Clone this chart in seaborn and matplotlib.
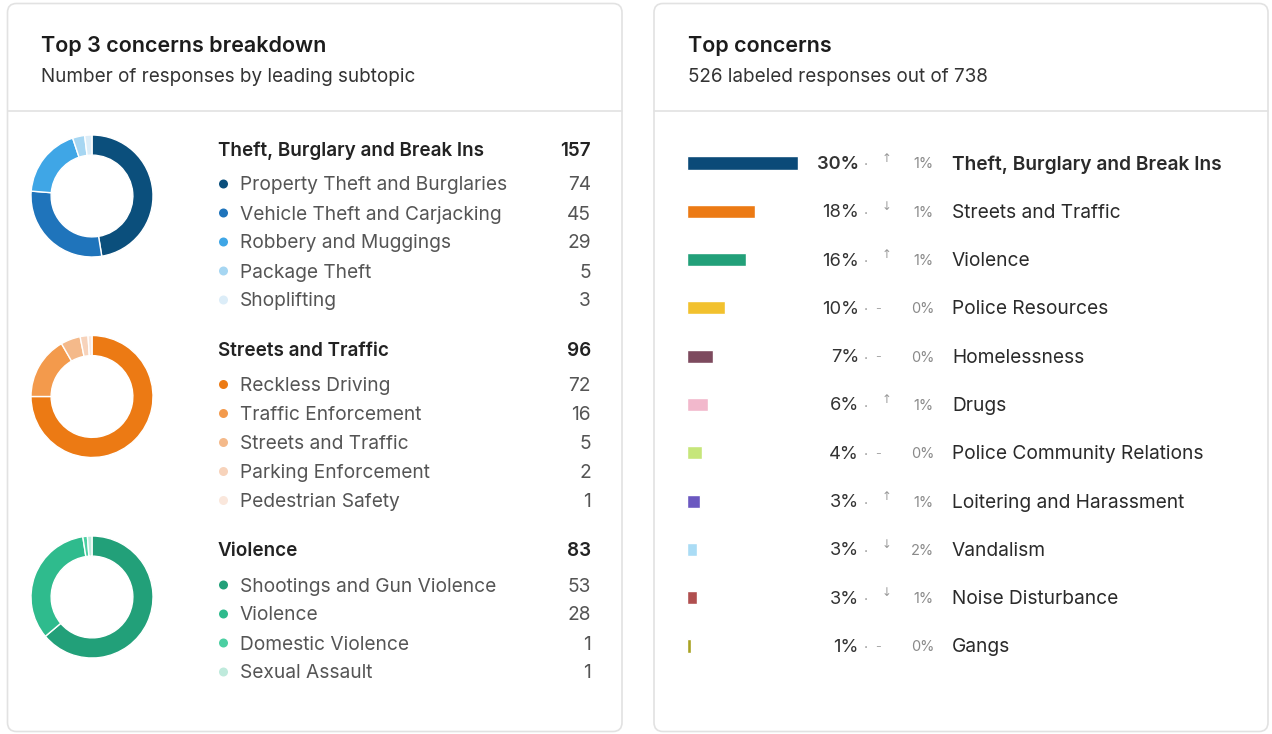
import matplotlib
matplotlib.use("Agg")
import matplotlib.pyplot as plt
import matplotlib.transforms as mtransforms
from matplotlib.patches import FancyBboxPatch
import seaborn as sns

sns.set_theme(style="white")
plt.rcParams['font.family'] = ['Inter', 'DejaVu Sans']

# ---- data: left card (top 3 concerns breakdown) ----
group_titles = ["Theft, Burglary and Break Ins", "Streets and Traffic", "Violence"]
group_totals = [157, 96, 83]

theft_subtopics = ["Property Theft and Burglaries", "Vehicle Theft and Carjacking",
                   "Robbery and Muggings", "Package Theft", "Shoplifting"]
theft_counts = [74, 45, 29, 5, 3]
theft_colors = ['#0b4f7c', '#1f74bb', '#3fa6e6', '#a6d6f2', '#dcedf8']

streets_subtopics = ["Reckless Driving", "Traffic Enforcement", "Streets and Traffic",
                     "Parking Enforcement", "Pedestrian Safety"]
streets_counts = [72, 16, 5, 2, 1]
streets_colors = ['#ec7a14', '#f39a4c', '#f4b98a', '#f7d3bb', '#fae7dc']

violence_subtopics = ["Shootings and Gun Violence", "Violence", "Domestic Violence", "Sexual Assault"]
violence_counts = [53, 28, 1, 1]
violence_colors = ['#22a079', '#2fbb8d', '#4ccfa2', '#bfeadc']

# ---- data: right card (top concerns) ----
concern_names = ["Theft, Burglary and Break Ins", "Streets and Traffic", "Violence",
                 "Police Resources", "Homelessness", "Drugs", "Police Community Relations",
                 "Loitering and Harassment", "Vandalism", "Noise Disturbance", "Gangs"]
concern_shares = [29.8, 18.3, 15.8, 10.1, 7.0, 5.7, 4.1, 3.4, 2.7, 2.7, 1.0]
change_dirs = ["up", "down", "up", "flat", "flat", "up", "flat", "up", "down", "down", "flat"]
change_vals = [1, 1, 1, 0, 0, 1, 0, 1, 2, 1, 0]
bar_colors = ['#0b4a78', '#ec7a14', '#22a079', '#f2c12e', '#7d4a5e', '#f2b8cc',
              '#c6e67a', '#6b58c0', '#aadcf5', '#b04f4f', '#a9a222']

W, H = 1272, 734
fig = plt.figure(figsize=(W / 100, H / 100), dpi=100)
fig.patch.set_facecolor('white')


def px_axes(x, y, w, h):
    """Axes placed in pixel coordinates (origin top-left)."""
    return fig.add_axes([x / W, 1 - (y + h) / H, w / W, h / H])


# background axes in pixel space
bg = fig.add_axes([0, 0, 1, 1])
bg.set_xlim(0, W)
bg.set_ylim(H, 0)
bg.axis('off')

border = '#e2e2e2'
for x0, x1 in [(7.5, 622), (654, 1268)]:
    bg.add_patch(FancyBboxPatch((x0, 3.5), x1 - x0, 728, boxstyle="round,pad=0,rounding_size=9",
                                facecolor='white', edgecolor=border, linewidth=1.2))
    bg.plot([x0, x1], [111, 111], color=border, linewidth=1.2)

title_kw = dict(fontsize=15.5, fontweight='semibold', color='#1c1c1c', va='center')
sub_kw = dict(fontsize=13.6, color='#333333', va='center')
bg.text(41, 45.5, "Top 3 concerns breakdown", **title_kw)
bg.text(41, 76.5, "Number of responses by leading subtopic", **sub_kw)
bg.text(688, 45.5, "Top concerns", **title_kw)
bg.text(688, 76.5, "526 labeled responses out of 738", **sub_kw)

# ---- left card: donuts + legends ----
groups = [
    (theft_subtopics, theft_counts, theft_colors),
    (streets_subtopics, streets_counts, streets_colors),
    (violence_subtopics, violence_counts, violence_colors),
]
for g, (subs, counts, colors) in enumerate(groups):
    cy = 196 + 200.5 * g
    ax = px_axes(31, cy - 61, 122, 122)
    ax.pie(counts, colors=colors, startangle=90, counterclock=False,
           wedgeprops=dict(width=0.33, edgecolor='white', linewidth=1))
    ax.set_xlim(-1, 1)
    ax.set_ylim(-1, 1)
    ax.set_facecolor('none')

    bg.text(218, cy - 45.5, group_titles[g], fontsize=13.6, fontweight='semibold', color='#222222',
            va='center')
    bg.text(591, cy - 45.5, str(group_totals[g]), fontsize=13.6, fontweight='semibold', color='#222222',
            va='center', ha='right')
    for k, (name, val, col) in enumerate(zip(subs, counts, colors)):
        y = cy - 12 + 29 * k
        bg.scatter([223.5], [y], s=42, color=col, edgecolors='none', zorder=3)
        bg.text(240, y + 1.5, name, fontsize=13.8, color='#555555', va='center')
        bg.text(591, y + 1.5, str(val), fontsize=13.8, color='#555555', va='center', ha='right')

# ---- right card: horizontal bars ----
px_per_pct = 111 / 29.8
bar_w_px = 200
ax_bar = px_axes(687, 163 - 24.15, bar_w_px, 48.3 * 11)
sns.barplot(x=concern_shares, y=concern_names, hue=concern_names, palette=bar_colors,
            width=0.27, saturation=1, legend=False, orient='h', ax=ax_bar)
ax_bar.set_xlim(0, bar_w_px / px_per_pct)
ax_bar.set_ylim(len(concern_names) - 0.5, -0.5)
ax_bar.axis('off')
ax_bar.patch.set_alpha(0)

tr = mtransforms.blended_transform_factory(bg.transData, ax_bar.transData)
arrows = {"up": "↑", "down": "↓"}
for i, (name, share, d, cv) in enumerate(zip(concern_names, concern_shares, change_dirs, change_vals)):
    weight = 'semibold' if i == 0 else 'normal'
    bg.text(859, i + 0.03, f"{round(share)}%", transform=tr, fontsize=13.2, color='#333333',
            fontweight=weight, ha='right', va='center')
    bg.text(866, i + 0.05, "·", transform=tr, fontsize=10, color='#999999', ha='center', va='center')
    if d == "flat":
        bg.text(878, i + 0.02, "-", transform=tr, fontsize=9, color='#aaaaaa', ha='center', va='center')
    else:
        bg.text(887, i - 0.1, arrows[d], transform=tr, fontsize=8.5, color='#999999',
                ha='center', va='center', family=['DejaVu Sans'])
    bg.text(934, i + 0.03, f"{cv}%", transform=tr, fontsize=10.5, color='#8a8a8a', ha='right', va='center')
    bg.text(952, i + 0.03, name, transform=tr, fontsize=13.8, color='#2a2a2a', fontweight=weight, va='center')

fig.savefig("out.png", dpi=100, facecolor='white')
